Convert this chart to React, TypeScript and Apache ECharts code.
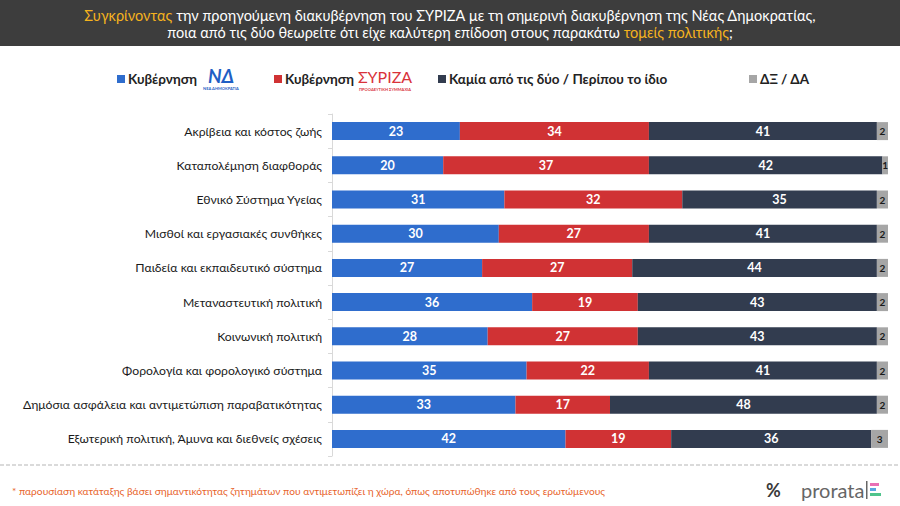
import React, { useEffect, useRef } from "react";
import * as echarts from "echarts";

const categories = [
  "Ακρίβεια και κόστος ζωής",
  "Καταπολέμηση διαφθοράς",
  "Εθνικό Σύστημα Υγείας",
  "Μισθοί και εργασιακές συνθήκες",
  "Παιδεία και εκπαιδευτικό σύστημα",
  "Μεταναστευτική πολιτική",
  "Κοινωνική πολιτική",
  "Φορολογία και φορολογικό σύστημα",
  "Δημόσια ασφάλεια και αντιμετώπιση παραβατικότητας",
  "Εξωτερική πολιτική, Άμυνα και διεθνείς σχέσεις",
];
const ndValues = [23, 20, 31, 30, 27, 36, 28, 35, 33, 42];
const syrizaValues = [34, 37, 32, 27, 27, 19, 27, 22, 17, 19];
const noneValues = [41, 42, 35, 41, 44, 43, 43, 41, 48, 36];
const dkValues = [2, 1, 2, 2, 2, 2, 2, 2, 2, 3];

const seriesNames = ["Κυβέρνηση ΝΔ", "Κυβέρνηση ΣΥΡΙΖΑ", "Καμία από τις δύο / Περίπου το ίδιο", "ΔΞ / ΔΑ"];
const colors = ["#2f6dcd", "#d03234", "#323c4f", "#a6a6a6"];

const FONT = "'Lato', 'DejaVu Sans', sans-serif";

export default function App() {
  const ref = useRef<HTMLDivElement>(null);
  useEffect(() => {
    if (!ref.current) return;
    const chart = echarts.init(ref.current, null, { renderer: "svg" });
    const values = [ndValues, syrizaValues, noneValues, dkValues];
    const legendX = [112, 269, 433, 744];
    const legendLabels = ["Κυβέρνηση", "Κυβέρνηση", seriesNames[2], seriesNames[3]];
    const option: any = {
      animation: false,
      backgroundColor: "#ffffff",
      textStyle: { fontFamily: FONT },
      legend: seriesNames.map((n, i) => ({
        data: [n],
        left: legendX[i],
        top: 67,
        icon: "rect",
        itemWidth: 8,
        itemHeight: 8,
        itemGap: 4,
        formatter: () => legendLabels[i],
        textStyle: { fontFamily: FONT, fontSize: 13.5, fontWeight: "bold", color: "#222", padding: [0, 0, 0, -2] },
        selectedMode: false,
      })),
      grid: { left: 332, right: 12, top: 114, bottom: 50, containLabel: false },
      xAxis: { type: "value", min: 0, max: 100, show: false },
      yAxis: {
        type: "category",
        data: categories,
        inverse: true,
        axisLine: { show: true, lineStyle: { color: "#d9d9d9" } },
        axisTick: { show: true, length: 4, lineStyle: { color: "#d9d9d9" } },
        axisLabel: { fontFamily: FONT, fontSize: 12.2, color: "#1a1a1a", margin: 10 },
      },
      series: seriesNames.map((n, i) => ({
        name: n,
        type: "bar",
        stack: "total",
        barWidth: 18,
        data: values[i],
        itemStyle: { color: colors[i] },
        label: {
          show: true,
          position: "inside",
          fontFamily: FONT,
          fontSize: i === 3 ? 10 : 12.5,
          fontWeight: "bold",
          color: i === 3 ? "#1a1a1a" : "#ffffff",
        },
      })),
      graphic: [
        { type: "rect", shape: { x: 0, y: 0, width: 900, height: 46 }, style: { fill: "#3d3d3d" } },
        {
          type: "text", x: 450, y: 15,
          style: {
            text: "{o|Συγκρίνοντας} την προηγούμενη διακυβέρνηση του ΣΥΡΙΖΑ με τη σημερινή διακυβέρνηση της Νέας Δημοκρατίας,",
            align: "center", verticalAlign: "middle", fill: "#ffffff", font: `14.5px ${FONT}`,
            rich: { o: { fill: "#f5b31e", font: `14.5px ${FONT}` } },
          },
        },
        {
          type: "text", x: 450, y: 32.5,
          style: {
            text: "ποια από τις δύο θεωρείτε ότι είχε καλύτερη επίδοση στους παρακάτω {o|τομείς πολιτικής};",
            align: "center", verticalAlign: "middle", fill: "#ffffff", font: `14.5px ${FONT}`,
            rich: { o: { fill: "#f5b31e", font: `14.5px ${FONT}` } },
          },
        },
        // ND logo
        { type: "text", x: 221, y: 75, style: { text: "ΝΔ", align: "center", verticalAlign: "middle", fill: "#1f5fc4", font: `italic bold 19px ${FONT}` } },
        { type: "text", x: 221, y: 88, style: { text: "ΝΕΑ ΔΗΜΟΚΡΑΤΙΑ", align: "center", verticalAlign: "middle", fill: "#1f5fc4", font: `bold 4px ${FONT}` } },
        // SYRIZA logo
        { type: "text", x: 385, y: 76, style: { text: "ΣΥΡΙΖΑ", align: "center", verticalAlign: "middle", fill: "#d9323a", font: `16px ${FONT}` } },
        { type: "text", x: 385, y: 89, style: { text: "ΠΡΟΟΔΕΥΤΙΚΗ ΣΥΜΜΑΧΙΑ", align: "center", verticalAlign: "middle", fill: "#d9323a", font: `bold 4px ${FONT}` } },
        // footer
        { type: "line", shape: { x1: 0, y1: 465, x2: 900, y2: 465 }, style: { stroke: "#b5b5b5", lineWidth: 1, lineDash: [4, 2] } },
        {
          type: "text", x: 12, y: 491,
          style: {
            text: "* παρουσίαση κατάταξης βάσει σημαντικότητας ζητημάτων που αντιμετωπίζει η χώρα, όπως αποτυπώθηκε από τους ερωτώμενους",
            verticalAlign: "middle", fill: "#e8642c", font: `10.2px ${FONT}`,
          },
        },
        { type: "text", x: 766, y: 490, style: { text: "%", verticalAlign: "middle", fill: "#3a3a3a", font: `bold 18px ${FONT}` } },
        { type: "text", x: 801, y: 490, style: { text: "prorata", verticalAlign: "middle", fill: "#666666", font: `20px ${FONT}` } },
        { type: "rect", shape: { x: 866, y: 481, width: 1.5, height: 18 }, style: { fill: "#666666" } },
        { type: "rect", shape: { x: 870, y: 483, width: 9, height: 3 }, style: { fill: "#e86fb4" } },
        { type: "rect", shape: { x: 870, y: 488, width: 6, height: 3 }, style: { fill: "#5aa6e0" } },
        { type: "rect", shape: { x: 870, y: 493, width: 11, height: 3 }, style: { fill: "#4fc48c" } },
      ],
    };
    chart.setOption(option);
    return () => chart.dispose();
  }, []);
  return <div ref={ref} style={{ width: 900, height: 506, position: "absolute", left: 0, top: 0 }} />;
}
